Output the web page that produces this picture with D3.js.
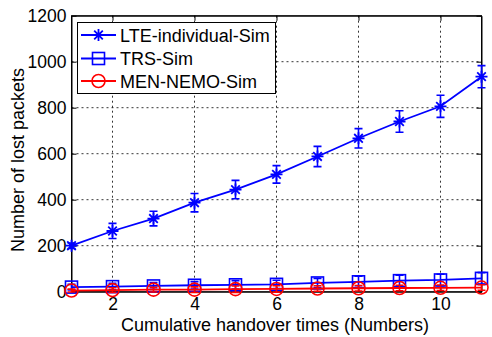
<!DOCTYPE html>
<html><head><meta charset="utf-8">
<script src="https://cdn.jsdelivr.net/npm/d3@7"></script>
<style>body{margin:0;background:#fff}svg{display:block}text{font-family:"Liberation Sans",Arial,sans-serif}</style>
</head><body><svg id="c" width="492" height="337"></svg>
<script>
const xs = [1,2,3,4,5,6,7,8,9,10,11];
const lteVals = [200,264,318,387,444,510,588,667,740,806,935];
const lteErr  = [12,33,32,40,40,38,44,42,47,48,48];
const trsVals = [20,22,25,28,30,32,38,43,48,51,58];
const trsErr  = [12,14,15,16,18,18,20,24,24,25,25];
const menVals = [5,7,9,9,11,12,14,15,16,17,18];
const menErr  = [6,10,10,12,14,14,12,12,12,12,12];
const xTicks = [2,4,6,8,10];
const yTicks = [0,200,400,600,800,1000,1200];
const series = [
  {name:"LTE-individual-Sim", vals:lteVals, err:lteErr, color:"#0000ff", marker:"star"},
  {name:"TRS-Sim", vals:trsVals, err:trsErr, color:"#0000ff", marker:"square"},
  {name:"MEN-NEMO-Sim", vals:menVals, err:menErr, color:"#ff0000", marker:"circle"}
];
const FONT = "'Liberation Sans', Arial, sans-serif";

const svg = d3.select("#c");
const L=71.5, R=481.5, T=15.7, B=291.7;
const x = d3.scaleLinear().domain([1,11]).range([L,R]);
const y = d3.scaleLinear().domain([0,1200]).range([B,T]);

const g = svg.append("g");
g.selectAll(".gx").data(xTicks).join("line")
  .attr("x1",d=>x(d)).attr("x2",d=>x(d)).attr("y1",T).attr("y2",B)
  .attr("stroke","#000").attr("stroke-width",0.8).attr("stroke-dasharray","2,3");
g.selectAll(".gy").data(yTicks.slice(1,-1)).join("line")
  .attr("y1",d=>y(d)).attr("y2",d=>y(d)).attr("x1",L).attr("x2",R)
  .attr("stroke","#000").attr("stroke-width",0.8).attr("stroke-dasharray","2,3");

const ax = svg.append("g").attr("transform",`translate(0,${B})`)
  .call(d3.axisBottom(x).tickValues(xTicks).tickSizeInner(-5).tickSizeOuter(0).tickPadding(6).tickFormat(d3.format("d")));
const ay = svg.append("g").attr("transform",`translate(${L},0)`)
  .call(d3.axisLeft(y).tickValues(yTicks).tickSizeInner(-5).tickSizeOuter(0).tickPadding(5).tickFormat(d3.format("d")));
const axT = svg.append("g").attr("transform",`translate(0,${T})`)
  .call(d3.axisTop(x).tickValues(xTicks).tickSizeInner(-5).tickSizeOuter(0).tickFormat(""));
const ayR = svg.append("g").attr("transform",`translate(${R},0)`)
  .call(d3.axisRight(y).tickValues(yTicks).tickSizeInner(-5).tickSizeOuter(0).tickFormat(""));
[ax,ay,axT,ayR].forEach(a=>{
  a.select(".domain").attr("stroke","#000");
  a.selectAll(".tick line").attr("stroke","#000");
  a.selectAll("text").attr("font-size",17.5).attr("fill","#000").attr("font-family",FONT);
});
svg.append("rect").attr("x",L).attr("y",T).attr("width",R-L).attr("height",B-T)
  .attr("fill","none").attr("stroke","#000").attr("stroke-width",1);

function drawMarker(sel, type, color){
  if(type==="star"){
    const s=6, d=4.3;
    sel.append("path").attr("d",`M${-s},0L${s},0M0,${-s}L0,${s}M${-d},${-d}L${d},${d}M${-d},${d}L${d},${-d}`)
      .attr("stroke",color).attr("stroke-width",1.8).attr("fill","none");
  } else if(type==="square"){
    sel.append("rect").attr("x",-6).attr("y",-6).attr("width",12).attr("height",12)
      .attr("stroke",color).attr("stroke-width",1.6).attr("fill","none");
  } else {
    sel.append("circle").attr("r",6.5).attr("stroke",color).attr("stroke-width",1.6).attr("fill","none");
  }
}

const line = d3.line().x(d=>x(d[0])).y(d=>y(d[1]));
series.forEach(s=>{
  const pts = xs.map((v,i)=>[v,s.vals[i],s.err[i]]);
  const sg = svg.append("g");
  pts.forEach(p=>{
    const cx=x(p[0]), y1=y(p[1]-p[2]), y2=y(p[1]+p[2]), w=4;
    sg.append("path").attr("d",`M${cx},${y1}L${cx},${y2}M${cx-w},${y1}L${cx+w},${y1}M${cx-w},${y2}L${cx+w},${y2}`)
      .attr("stroke",s.color).attr("stroke-width",1.6).attr("fill","none");
  });
  sg.append("path").datum(pts).attr("d",line).attr("stroke",s.color).attr("stroke-width",1.8).attr("fill","none");
  pts.forEach(p=>{
    drawMarker(sg.append("g").attr("transform",`translate(${x(p[0])},${y(p[1])})`), s.marker, s.color);
  });
});

const lg = svg.append("g");
lg.append("rect").attr("x",77.5).attr("y",22.5).attr("width",198).attr("height",71)
  .attr("fill","#fff").attr("stroke","#000").attr("stroke-width",1);
series.forEach((s,i)=>{
  const ly = [35,58.5,81][i];
  lg.append("line").attr("x1",81).attr("x2",116).attr("y1",ly).attr("y2",ly)
    .attr("stroke",s.color).attr("stroke-width",1.8);
  drawMarker(lg.append("g").attr("transform",`translate(98.5,${ly})`), s.marker, s.color);
  lg.append("text").attr("x",120).attr("y",ly+6.5).attr("font-size",18).attr("font-family",FONT).attr("fill","#000").text(s.name);
});

svg.append("text").attr("x",275).attr("y",331).attr("text-anchor","middle")
  .attr("font-size",18).attr("font-family",FONT).attr("fill","#000").text("Cumulative handover times (Numbers)");
svg.append("text").attr("transform",`translate(24,160) rotate(-90)`).attr("text-anchor","middle")
  .attr("font-size",18).attr("font-family",FONT).attr("fill","#000").text("Number of lost packets");
</script></body></html>
